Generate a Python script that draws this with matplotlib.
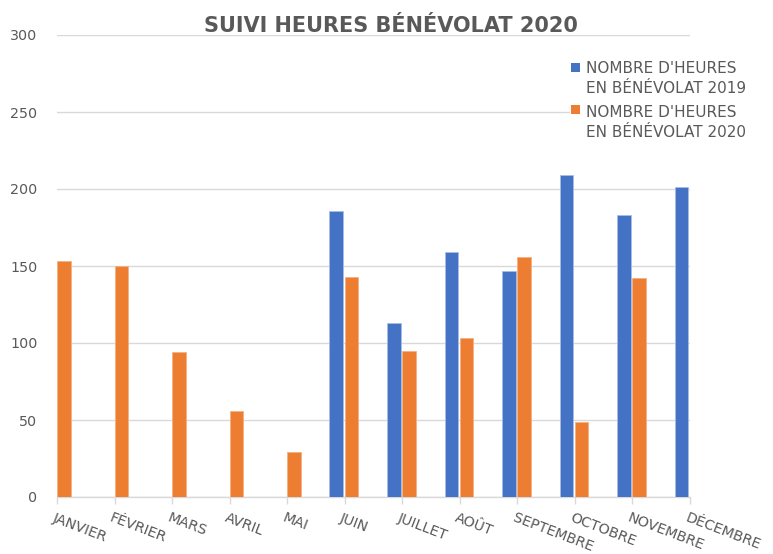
import matplotlib
matplotlib.use("Agg")
import matplotlib.pyplot as plt
import matplotlib.transforms as mtrans
from matplotlib.patches import Rectangle
import numpy as np

months = ["JANVIER", "FÉVRIER", "MARS", "AVRIL", "MAI", "JUIN", "JUILLET",
          "AOÛT", "SEPTEMBRE", "OCTOBRE", "NOVEMBRE", "DÉCEMBRE"]
hours_2019 = [np.nan, np.nan, np.nan, np.nan, np.nan, 186, 113, 159, 147, 209, 183, 201]
hours_2020 = [153, 150, 94, 56, 29, 143, 95, 103, 156, 49, 142, np.nan]
label_2019 = ["NOMBRE D'HEURES", "EN BÉNÉVOLAT 2019"]
label_2020 = ["NOMBRE D'HEURES", "EN BÉNÉVOLAT 2020"]
title = "SUIVI HEURES BÉNÉVOLAT 2020"
yticks = [0, 50, 100, 150, 200, 250, 300]

BLUE = "#4472C4"
ORANGE = "#ED7D31"
GRAY = "#595959"
GRID = "#D9D9D9"

plt.rcParams['font.family'] = ['DejaVu Sans']

fig = plt.figure(figsize=(7.73, 5.54), dpi=100)
W, H = 773, 554
ax = fig.add_axes([57 / W, 1 - 497 / H, (690 - 57) / W, (497 - 35) / H])

x = np.arange(len(months))
bw = 0.235
gap = 0.03
ax.bar(x - gap - bw, hours_2019, width=bw, align='edge', color=BLUE,
       edgecolor="#A9BDE6", linewidth=0.6, zorder=3)
ax.bar(x, hours_2020, width=bw, align='edge', color=ORANGE,
       edgecolor="#F4B183", linewidth=0.6, zorder=3)

ax.set_xlim(0, len(months) - 1)
ax.set_ylim(0, 300)
ax.set_yticks(yticks)
ax.yaxis.grid(True, color=GRID, linewidth=1, zorder=0)
ax.set_axisbelow(True)
for s in ["top", "right", "left"]:
    ax.spines[s].set_visible(False)
ax.spines["bottom"].set_color(GRID)
ax.spines["bottom"].set_linewidth(1)
ax.tick_params(axis='y', length=0, labelsize=10.3, labelcolor=GRAY, pad=14)
ax.tick_params(axis='x', length=5, color=GRID, width=1, direction='out', pad=5)
ax.set_xticks(x)
ax.set_xticklabels(months, rotation=-21, ha='left', va='top',
                   rotation_mode='anchor', fontsize=10.3, color=GRAY)
offset = mtrans.ScaledTranslation(-1.5 / 100, 0, fig.dpi_scale_trans)
for lab in ax.get_xticklabels():
    lab.set_transform(lab.get_transform() + offset)

fig.text(391 / W, 1 - 31.5 / H, title, ha='center', va='baseline',
         fontsize=15, fontweight='bold', color=GRAY)

# legend
fig.patches.append(Rectangle((570 / W, 1 - 140 / H), 200 / W, 85 / H,
                             transform=fig.transFigure, facecolor='white',
                             edgecolor='none', zorder=5))
entries = [(label_2019, BLUE, 63, 73.4), (label_2020, ORANGE, 105, 116.7)]
for lines, col, sq_top, base in entries:
    fig.patches.append(Rectangle((571 / W, 1 - (sq_top + 8.5) / H), 9 / W, 8.5 / H,
                                 transform=fig.transFigure, facecolor=col,
                                 edgecolor='none', zorder=6))
    for j, line in enumerate(lines):
        fig.text(586 / W, 1 - (base + 20 * j) / H, line, ha='left', va='baseline',
                 fontsize=11, color=GRAY, zorder=6)

fig.savefig("out.png", dpi=100)
